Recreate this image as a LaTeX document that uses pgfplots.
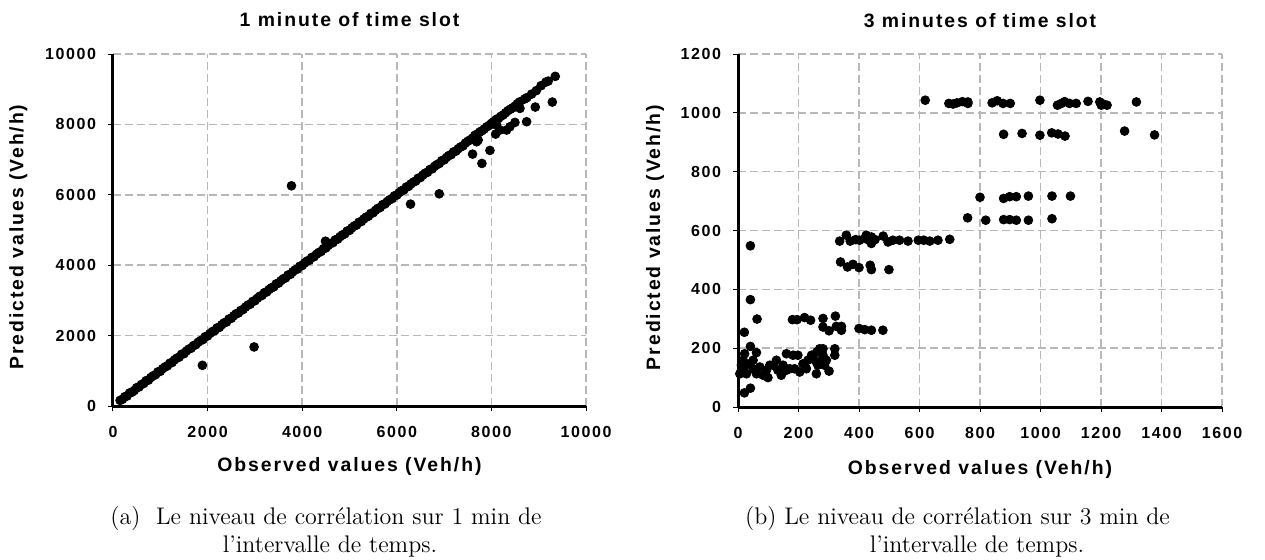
\documentclass[border=0pt]{standalone}
\usepackage{pgfplots}
\pgfplotsset{compat=1.18}
\usepackage{pgfplotstable}
\usepackage{fontspec}
\newfontfamily\chartfont[LetterSpace=10]{Liberation Sans}

\pgfplotstableread{
x y
150 160
200 190
250 265
300 285
350 370
400 390
450 440
500 520
550 540
600 610
650 640
700 720
750 735
800 810
850 860
900 890
950 970
1000 985
1050 1060
1100 1110
1150 1140
1200 1215
1250 1235
1300 1310
1350 1360
1400 1390
1450 1470
1500 1485
1550 1560
1600 1615
1650 1640
1700 1715
1750 1740
1800 1810
1850 1860
1900 1885
1950 1970
2000 1990
2050 2060
2100 2115
2150 2140
2200 2220
2250 2235
2300 2310
2350 2365
2400 2385
2450 2470
2500 2490
2550 2560
2600 2620
2650 2640
2700 2715
2750 2740
2800 2810
2850 2865
2900 2890
2950 2970
3000 2990
3050 3060
3100 3115
3150 3140
3200 3220
3250 3240
3300 3310
3350 3360
3400 3385
3450 3470
3500 3490
3550 3560
3600 3615
3650 3640
3700 3720
3750 3740
3800 3810
3850 3865
3900 3890
3950 3970
4000 3990
4050 4060
4100 4115
4150 4140
4200 4220
4250 4240
4300 4310
4350 4360
4400 4390
4450 4470
4500 4490
4550 4560
4600 4615
4650 4640
4700 4720
4750 4740
4800 4810
4850 4860
4900 4890
4950 4970
5000 4990
5050 5060
5100 5115
5150 5140
5200 5220
5250 5240
5300 5310
5350 5365
5400 5390
5450 5470
5500 5490
5550 5560
5600 5615
5650 5640
5700 5720
5750 5740
5800 5810
5850 5860
5900 5890
5950 5970
6000 5990
6050 6060
6100 6115
6150 6140
6200 6220
6250 6240
6300 6310
6350 6360
6400 6390
6450 6470
6500 6490
6550 6560
6600 6615
6650 6640
6700 6720
6750 6740
6800 6810
6850 6860
6900 6890
6950 6970
7000 6990
7050 7060
7100 7115
7150 7140
7200 7220
7250 7240
7300 7310
7350 7360
7400 7390
7450 7470
7500 7520
7550 7560
7600 7610
7650 7690
7700 7720
7750 7780
7800 7820
7850 7870
7900 7930
7950 7970
8000 8030
8050 8080
8100 8140
8150 8170
8200 8230
8250 8270
8300 8330
8350 8390
8400 8430
8450 8470
8500 8520
8550 8590
8600 8640
8700 8720
8750 8760
8850 8860
8950 8960
9050 9100
9150 9200
9200 9230
9350 9365
1890 1156
2983 1678
3773 6256
4492 4682
6290 5735
6897 6028
7602 7156
7800 6891
7969 7261
7687 7507
7720 7555
8089 7725
8180 7839
8321 7839
8392 7934
8110 7980
8498 8057
8604 8455
8745 8076
8928 8493
9288 8635
}\oneminute

\pgfplotstableread{
x y
619 1043
697 1032
711 1030
724 1034
742 1038
760 1037
760 1032
840 1034
857 1041
876 1032
900 1032
998 1043
1056 1026
1069 1032
1080 1038
1096 1032
1118 1032
1157 1039
1196 1037
1207 1030
1220 1026
1201 1026
1317 1037
878 927
939 930
998 924
1037 932
1058 928
1081 921
1278 938
1377 925
800 713
878 709
898 715
920 715
960 717
1038 717
1099 717
759 643
819 635
878 637
898 637
920 635
960 635
1038 640
336 564
358 584
371 564
389 569
402 567
420 573
433 567
441 556
453 569
480 581
496 561
512 567
534 567
562 564
596 567
614 567
634 564
661 567
700 570
424 584
441 578
339 493
362 476
380 485
400 474
437 482
441 467
499 467
41 548
41 365
63 299
21 254
41 206
61 185
21 48
41 64
180 297
195 297
220 304
240 295
281 301
322 309
281 272
301 259
325 274
342 261
342 274
400 267
419 263
441 261
479 261
22 181
17 159
19 130
28 113
39 147
50 130
61 113
72 136
83 108
99 100
94 125
116 142
127 159
143 108
160 181
171 130
182 176
198 176
204 119
226 130
243 176
261 187
259 113
270 198
281 198
275 159
259 153
301 122
320 198
320 176
264 142
6 113
11 142
50 159
105 142
132 125
149 142
160 125
187 130
215 147
231 159
248 176
281 176
286 142
292 159
}\threeminute

\pgfplotsset{
  chartstyle/.style={
    scale only axis,
    anchor=south west,
    axis x line*=bottom,
    axis y line*=left,
    axis line style={-, line width=1.5pt, black},
    grid=major,
    major grid style={dash pattern=on 4pt off 2pt, line width=0.8pt, color=black!28},
    tick align=outside,
    major tick length=2.5pt,
    tick style={black, line width=0.5pt},
    scaled ticks=false,
    /pgf/number format/1000 sep={},
    /pgf/number format/assume math mode=true,
    ticklabel style={font=\chartfont\bfseries\fontsize{8}{9}\selectfont},
    xticklabel style={yshift=-4pt},
    yticklabel style={xshift=-2.5pt},
    label style={font=\chartfont\bfseries\fontsize{9.7}{11}\selectfont},
    title style={font=\chartfont\bfseries\fontsize{9.7}{11}\selectfont, anchor=center},
    clip=false,
  },
  dots/.style={only marks, mark=*, mark size=2.2pt, color=black, mark options={fill=black, draw=black}},
}

\begin{document}
\begin{tikzpicture}
\path[use as bounding box] (0,0) rectangle (632.5pt,279.5pt);

\begin{axis}[chartstyle,
  at={(56.5pt,76.5pt)},
  width=236.5pt, height=176pt,
  xmin=0, xmax=10000, ymin=0, ymax=10000,
  xtick={0,2000,4000,6000,8000,10000},
  ytick={0,2000,4000,6000,8000,10000},
  title={1 minute of time slot},
  title style={at={(axis description cs:0.5,1.063)}},
  xlabel={Observed values (Veh/h)},
  ylabel={Predicted values (Veh/h)},
  xlabel style={at={(axis description cs:0.5,-0.173)}, anchor=center},
  ylabel style={at={(axis description cs:-0.20,0.48)}, anchor=center},
]
\addplot[dots] table[x=x,y=y] {\oneminute};
\end{axis}

\begin{axis}[chartstyle,
  at={(369pt,76pt)},
  width=242pt, height=176.5pt,
  xmin=0, xmax=1600, ymin=0, ymax=1200,
  xtick={0,200,400,600,800,1000,1200,1400,1600},
  ytick={0,200,400,600,800,1000,1200},
  title={3 minutes of time slot},
  title style={at={(axis description cs:0.5,1.062)}},
  xlabel={Observed values (Veh/h)},
  ylabel={Predicted values (Veh/h)},
  xlabel style={at={(axis description cs:0.5,-0.176)}, anchor=center},
  ylabel style={at={(axis description cs:-0.1715,0.48)}, anchor=center},
]
\addplot[dots] table[x=x,y=y] {\threeminute};
\end{axis}

\node[anchor=base, font=\fontsize{12}{11.5}\selectfont] at (163pt,17.5pt) {(a)\ \ Le niveau de corrélation sur 1 min de};
\node[anchor=base, font=\fontsize{12}{11.5}\selectfont] at (165pt,3.5pt) {l'intervalle de temps.};
\node[anchor=base, font=\fontsize{12}{11.5}\selectfont] at (478.75pt,17.5pt) {(b) Le niveau de corrélation sur 3 min de};
\node[anchor=base, font=\fontsize{12}{11.5}\selectfont] at (488.5pt,3.5pt) {l'intervalle de temps.};
\end{tikzpicture}
\end{document}
